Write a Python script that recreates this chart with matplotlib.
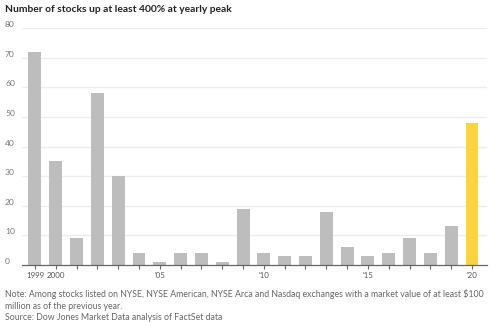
import matplotlib
matplotlib.use('Agg')
import matplotlib.pyplot as plt
from matplotlib.transforms import blended_transform_factory

years = list(range(1999, 2021))
counts = [72, 35, 9, 58, 30, 4, 1, 4, 4, 1, 19, 4, 3, 3, 18, 6, 3, 4, 9, 4, 13, 48]
tick_labels = {1999: '1999', 2000: '2000', 2005: "'05", 2010: "'10", 2015: "'15", 2020: "'20"}
y_ticks = [0, 10, 20, 30, 40, 50, 60, 70, 80]

title = 'Number of stocks up at least 400% at yearly peak'
note = ('Note: Among stocks listed on NYSE, NYSE American, NYSE Arca and Nasdaq exchanges with a market value of at least $100\n'
        'million as of the previous year.')
source = 'Source: Dow Jones Market Data analysis of FactSet data'

plt.rcParams['font.family'] = ['Lato', 'DejaVu Sans']

W, H = 496, 325
fig = plt.figure(figsize=(W / 100, H / 100), dpi=100)
ax = fig.add_axes([22 / W, (H - 265) / H, (487 - 22) / W, (265 - 28) / H])

colors = ['#bdbdbd'] * (len(years) - 1) + ['#fed33c']
ax.bar(years, counts, width=0.62, color=colors, zorder=2)

ax.set_xlim(1999 - 0.62, 2020 + 0.72)
ax.set_ylim(0, 80)
lab_tr = blended_transform_factory(fig.transFigure, ax.transData)
for v in y_ticks:
    if v > 0:
        ax.axhline(v, color='#ececec', lw=1, zorder=0)
    ax.text(5 / W, v, str(v), transform=lab_tr, fontsize=6.1, color='#777777',
            va='bottom', ha='left')

for s in ['top', 'right', 'left']:
    ax.spines[s].set_visible(False)
ax.spines['bottom'].set_color('#666666')
ax.spines['bottom'].set_linewidth(0.9)
ax.set_yticks([])
ax.set_xticks(years)
ax.set_xticklabels([tick_labels.get(y, '') for y in years])
ax.tick_params(axis='x', length=3, width=0.8, color='#666666', labelsize=5.7,
               labelcolor='#555555', pad=2)

fig.text(5 / W, 1 - 9 / H, title, fontsize=7.4, fontweight='bold', color='#222222', va='center', ha='left')
fig.text(5 / W, 1 - 289 / H, note, fontsize=6.3, color='#666666', va='top', ha='left', linespacing=1.45)
fig.text(5 / W, 1 - 313 / H, source, fontsize=6.3, color='#666666', va='top', ha='left')

fig.savefig('out.png', dpi=100)
